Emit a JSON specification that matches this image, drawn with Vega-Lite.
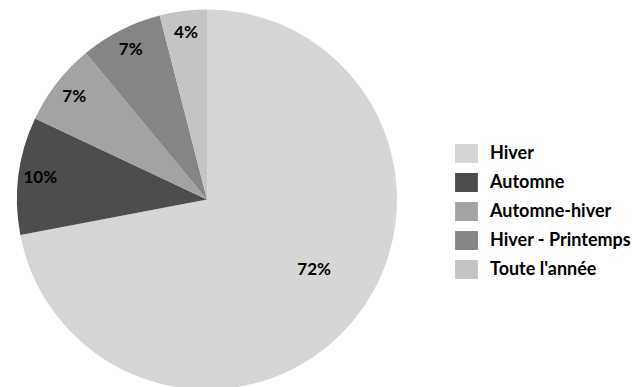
{
  "$schema": "https://vega.github.io/schema/vega-lite/v6.json",
  "width": 414,
  "height": 375,
  "autosize": "none",
  "padding": {"left": 0, "top": 12, "right": 219, "bottom": 0},
  "background": "white",
  "config": {"view": {"stroke": null}, "font": "Lato"},
  "data": {
    "values": [
      {"saison": "Hiver", "part": 72, "ordre": 1, "label": "72%"},
      {"saison": "Automne", "part": 10, "ordre": 2, "label": "10%"},
      {"saison": "Automne-hiver", "part": 7, "ordre": 3, "label": "7%"},
      {"saison": "Hiver - Printemps", "part": 7, "ordre": 4, "label": "7%"},
      {"saison": "Toute l'année", "part": 4, "ordre": 5, "label": "4%"}
    ]
  },
  "encoding": {
    "theta": {"field": "part", "type": "quantitative", "stack": true},
    "order": {"field": "ordre", "type": "quantitative"}
  },
  "layer": [
    {
      "mark": {"type": "arc", "outerRadius": 190},
      "encoding": {
        "color": {
          "field": "saison",
          "type": "nominal",
          "scale": {
            "domain": ["Hiver", "Automne", "Automne-hiver", "Hiver - Printemps", "Toute l'année"],
            "range": ["#d6d6d6", "#4d4d4d", "#a3a3a3", "#858585", "#c4c4c4"]
          },
          "legend": {
            "title": null,
            "orient": "none",
            "legendX": 457,
            "legendY": 132,
            "symbolType": "M-1.2,-1H1.2V1H-1.2Z",
            "symbolSize": 361,
            "symbolStrokeWidth": 0,
            "labelFont": "Lato",
            "labelFontWeight": "bold",
            "labelFontSize": 18,
            "labelColor": "#000000",
            "labelOffset": 14,
            "rowPadding": 10,
            "labelLimit": 300
          }
        }
      }
    },
    {
      "mark": {"type": "text", "radius": 168, "font": "Lato", "fontWeight": "bold", "fontSize": 17, "color": "#000000"},
      "encoding": {
        "text": {"condition": {"test": "datum.saison !== 'Hiver'", "field": "label"}, "value": ""}
      }
    },
    {
      "mark": {"type": "text", "radius": 130, "dx": 7, "dy": -12, "font": "Lato", "fontWeight": "bold", "fontSize": 17, "color": "#000000"},
      "encoding": {
        "text": {"condition": {"test": "datum.saison === 'Hiver'", "field": "label"}, "value": ""}
      }
    }
  ]
}
